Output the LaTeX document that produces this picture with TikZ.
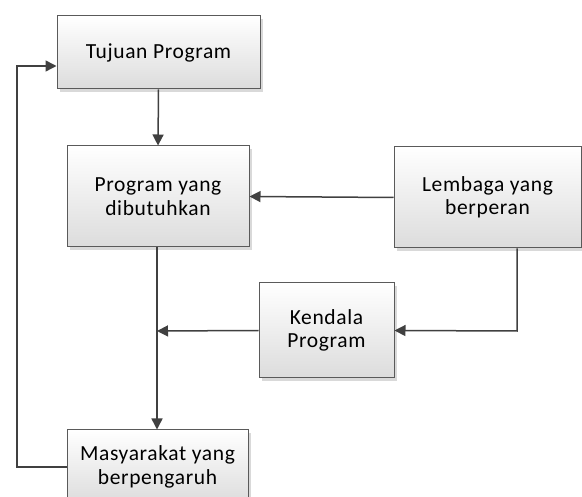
\documentclass[tikz,border=0pt]{standalone}
\usepackage{fontspec}
\setmainfont{Carlito}[LetterSpace=3]
\usetikzlibrary{arrows.meta,shadows}
\definecolor{boxline}{HTML}{5A5A5A}
\definecolor{arrowc}{HTML}{404040}
\definecolor{boxbot}{HTML}{DCDCDC}
\tikzset{
  blk/.style={draw=boxline, line width=1pt, top color=white, bottom color=boxbot,
    drop shadow={shadow xshift=3pt, shadow yshift=-3pt, fill=black!25, opacity=0.6},
    align=center, font=\fontsize{21.5}{23.5}\selectfont, inner sep=0pt},
  conn/.style={draw=arrowc, line width=1.5pt, -{Triangle[length=11pt,width=11pt]}},
}
\begin{document}
\begin{tikzpicture}[x=1pt,y=-1pt]
\useasboundingbox (0,0) rectangle (582,497);
\clip (0,0) rectangle (582,497);
\node[blk, minimum width=203pt, minimum height=73pt] (tuj) at (158.5,52.5) {Tujuan Program};
\node[blk, minimum width=182pt, minimum height=101pt] (prog) at (158,196.5) {Program yang\\dibutuhkan};
\node[blk, minimum width=187pt, minimum height=101pt] (lem) at (487.5,197.5) {Lembaga yang\\berperan};
\node[blk, minimum width=135pt, minimum height=95pt] (ken) at (326.5,330.5) {Kendala\\Program};
\node[blk, minimum width=181pt, minimum height=74pt] (mas) at (157.5,467) {Masyarakat yang\\berpengaruh};
\coordinate (j) at (157,331);
\draw[conn] (tuj.south) -- (prog.north);
\draw[conn] (prog.south -| j) -- (mas.north -| j);
\draw[conn] (ken.west) -- (j);
\draw[conn] (lem.west) -- (prog.east);
\draw[conn] (lem.south -| 517,0) -- (517,331) -- (ken.east);
\draw[conn] (mas.west) -- (17,467) -- (17,66) -- (tuj.west |- 0,66);
\end{tikzpicture}
\end{document}
